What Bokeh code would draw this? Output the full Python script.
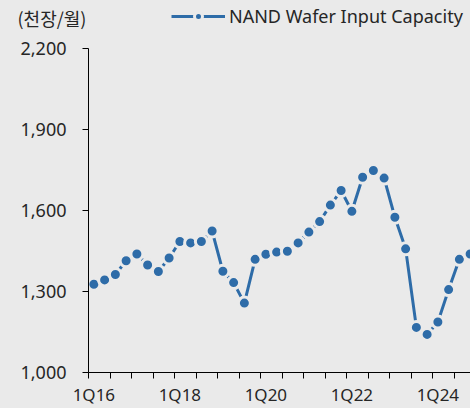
import numpy as np
from bokeh.plotting import figure
from bokeh.layouts import column
from bokeh.models import (Range1d, FixedTicker, NumeralTickFormatter, Legend, Label,
                          LegendItem, ColumnDataSource, GlobalInlineStyleSheet)
from bokeh.embed import file_html
from bokeh.resources import INLINE

# ---------------- data ----------------
quarters = ["1Q16", "2Q16", "3Q16", "4Q16", "1Q17", "2Q17", "3Q17", "4Q17",
            "1Q18", "2Q18", "3Q18", "4Q18", "1Q19", "2Q19", "3Q19", "4Q19",
            "1Q20", "2Q20", "3Q20", "4Q20", "1Q21", "2Q21", "3Q21", "4Q21",
            "1Q22", "2Q22", "3Q22", "4Q22", "1Q23", "2Q23", "3Q23", "4Q23",
            "1Q24", "2Q24", "3Q24", "4Q24"]
capacity = [1327, 1343, 1363, 1414, 1439, 1398, 1374, 1424,
            1485, 1480, 1485, 1524, 1375, 1333, 1257, 1419,
            1438, 1446, 1449, 1480, 1520, 1559, 1620, 1674,
            1597, 1723, 1748, 1720, 1575, 1458, 1167, 1141,
            1187, 1307, 1419, 1439]
y_ticks = [1000, 1300, 1600, 1900, 2200]
x_labels = ["1Q16", "1Q18", "1Q20", "1Q22", "1Q24"]
unit_label = "(천장/월)"
series_name = "NAND Wafer Input Capacity"

# ---------------- style ----------------
BG = "#EAEAEA"
BLUE = "#2E6CA8"
INK = "#262626"
LATIN = "Noto Sans"
W = 470
H_HEAD = 36
H_MAIN = 372
L, R, T, B = 88, 0, 12, 36
Y0, Y1 = 1000, 2200
PX_PER_Q = 10.75
X0 = -0.5
X1 = X0 + (W - L - R) / PX_PER_Q

# ---------------- header (unit text + legend) ----------------
head = figure(width=W, height=H_HEAD, output_backend="svg", toolbar_location=None,
              x_range=Range1d(0, W), y_range=Range1d(H_HEAD, 0),
              min_border=0, min_border_left=0, min_border_right=0,
              min_border_top=0, min_border_bottom=0,
              background_fill_color=BG, border_fill_color=BG,
              outline_line_color=None, x_axis_location=None, y_axis_location=None)
head.frame_align = False
head.xgrid.visible = False
head.ygrid.visible = False
head.stylesheets = [GlobalInlineStyleSheet(css="html,body{background:%s;}" % BG)]
nan = np.array([np.nan])
h_line = head.line(x=nan, y=nan, line_color=BLUE, line_width=3)
h_dot = head.scatter(x=nan, y=nan, size=8, fill_color=BLUE, line_color=BG, line_width=3)
head.add_layout(Label(x=17, y=17.5, text=unit_label, text_font="Noto Sans CJK KR",
                      text_font_size="18px", text_color=INK, text_baseline="middle",
                      text_align="left"))
legend = Legend(items=[LegendItem(label=series_name, renderers=[h_line, h_dot])],
                location=(171, H_HEAD - 28), orientation="horizontal",
                glyph_width=54, glyph_height=20, label_height=20,
                label_standoff=4, padding=0, margin=0, spacing=0,
                border_line_color=None, background_fill_alpha=0,
                label_text_font=LATIN, label_text_font_size="18px",
                label_text_color=INK)
head.add_layout(legend)

# ---------------- main chart ----------------
xs = list(range(len(quarters)))
src = ColumnDataSource(dict(x=xs, y=capacity, q=quarters))

p = figure(width=W, height=H_MAIN, output_backend="svg", toolbar_location=None,
           x_range=Range1d(X0, X1), y_range=Range1d(Y0, Y1),
           min_border_left=L, min_border_right=R, min_border_top=T, min_border_bottom=B,
           background_fill_color=BG, border_fill_color=BG, outline_line_color=None)
p.frame_align = False
p.xgrid.visible = False
p.ygrid.visible = False

p.line("x", "y", source=src, line_color=BLUE, line_width=3)
p.scatter("x", "y", source=src, size=12, fill_color=BLUE, line_color=BG, line_width=3)

xa = p.xaxis[0]
label_pos = [quarters.index(q) for q in x_labels]
minor = []
t = X0
while t <= X1 + 1e-9:
    minor.append(t)
    t += 2
xa.ticker = FixedTicker(ticks=label_pos, minor_ticks=minor)
xa.major_label_overrides = {i: quarters[i] for i in label_pos}
xa.major_tick_out = 0
xa.major_tick_in = 0
xa.minor_tick_out = 6
xa.minor_tick_in = 0
xa.major_label_standoff = 4
xa.axis_line_color = "black"
xa.minor_tick_line_color = "black"
xa.major_label_text_font = LATIN
xa.major_label_text_font_size = "17px"
xa.major_label_text_color = INK

ya = p.yaxis[0]
ya.ticker = FixedTicker(ticks=y_ticks)
ya.formatter = NumeralTickFormatter(format="0,0")
ya.major_tick_out = 6
ya.major_tick_in = 0
ya.minor_tick_out = 0
ya.minor_tick_in = 0
ya.major_label_standoff = 16
ya.axis_line_color = "black"
ya.major_tick_line_color = "black"
ya.major_label_text_font = LATIN
ya.major_label_text_font_size = "18px"
ya.major_label_text_color = INK

layout = column(head, p, spacing=0)
open("out.html", "w").write(file_html(layout, INLINE))
